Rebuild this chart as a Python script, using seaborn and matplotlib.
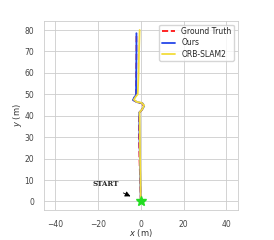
import matplotlib
matplotlib.use("Agg")
import matplotlib.pyplot as plt
import seaborn as sns

# trajectories (x, y) in metres
gt_x = [0.0, -0.3, -0.6, -0.8, -0.8, -0.6, 0.6, 1.4, 0.6, -1.8, -3.4, -2.9, -2.2, -2.1, -2.0, -2.0]
gt_y = [0.0, 10.0, 20.0, 30.0, 40.0, 41.5, 42.8, 44.5, 45.8, 46.3, 47.3, 48.6, 49.6, 60.0, 70.0, 78.5]

ours_x = [0.0, -0.2, -0.4, -0.6, -0.7, -0.7, 0.6, 1.6, 0.8, -1.6, -3.6, -3.0, -2.2, -2.1, -2.0, -2.0]
ours_y = [0.0, 10.0, 20.0, 30.0, 40.0, 41.5, 42.8, 44.5, 45.8, 46.3, 47.3, 48.6, 49.6, 60.0, 70.0, 78.5]

orb_x = [0.0, -0.1, -0.3, -0.4, -0.5, -0.6, 0.7, 1.6, 0.4, -2.0, -3.2, -2.4, -1.4, -1.0, -0.8, -0.5]
orb_y = [0.0, 10.0, 20.0, 30.0, 40.0, 41.5, 43.0, 44.8, 46.0, 46.5, 47.5, 48.8, 50.0, 60.0, 70.0, 80.0]

start_xy = (0.0, 0.0)

sns.set_theme(style="whitegrid")
plt.rcParams["font.family"] = ["DejaVu Sans"]

fig = plt.figure(figsize=(2.74, 2.4), dpi=100)
ax = fig.add_axes([0.16, 0.125, 0.708, 0.7875])

ax.plot(gt_x, gt_y, color="red", ls="--", lw=1.2, label="Ground Truth")
ax.plot(ours_x, ours_y, color="#2546e8", lw=1.3, label="Ours")
ax.plot(orb_x, orb_y, color="#f2dc3a", lw=1.3, label="ORB-SLAM2")
ax.plot(*start_xy, marker="*", color="#22dd22", ms=7, zorder=5)

ax.annotate("START", xy=(-3.6, 1.8), xytext=(-22.5, 7.0),
            fontsize=5, fontweight="bold", family="serif",
            arrowprops=dict(arrowstyle="-|>", color="black", lw=0.6, mutation_scale=8))

ax.set_xlim(-45.2, 45.3)
ax.set_ylim(-4.0, 84.2)
ax.set_xticks([-40, -20, 0, 20, 40])
ax.set_yticks([0, 10, 20, 30, 40, 50, 60, 70, 80])
ax.tick_params(labelsize=5.5, pad=1, labelcolor="#444444")
ax.set_xlabel("$x$ (m)", fontsize=6, labelpad=-1, color="#333333")
ax.set_ylabel("$y$ (m)", fontsize=6, labelpad=0, color="#333333")
for s in ax.spines.values():
    s.set_linewidth(0.6)
ax.grid(lw=0.6)

ax.legend(loc="upper right", fontsize=5.5, handlelength=1.8, borderpad=0.3,
          labelspacing=0.3, frameon=True)

fig.savefig("out.png", dpi=100)
